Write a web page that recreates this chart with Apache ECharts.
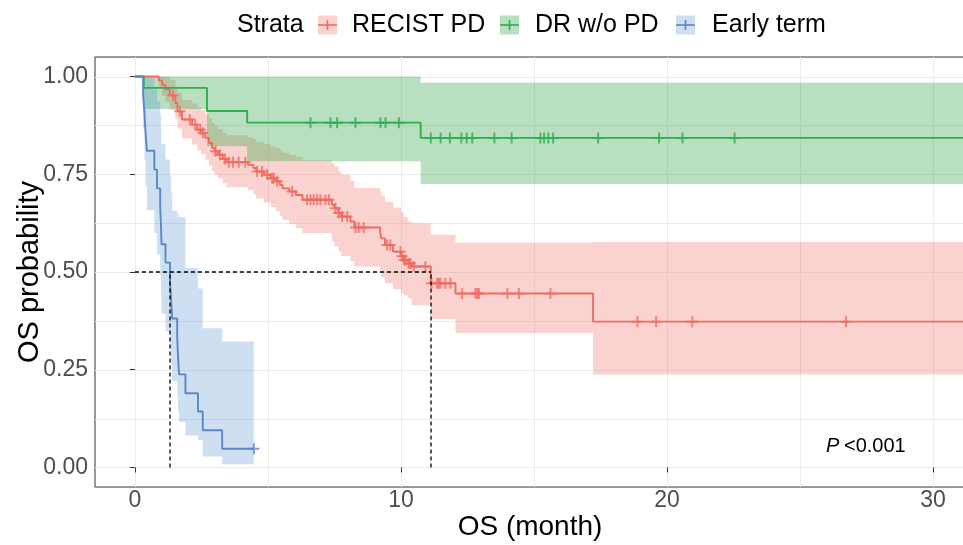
<!DOCTYPE html>
<html>
<head>
<meta charset="utf-8">
<script src="https://cdn.jsdelivr.net/npm/echarts@6/dist/echarts.min.js"></script>
<style>
  html, body { margin: 0; padding: 0; background: #fff; }
  #chart { width: 963px; height: 545px; }
</style>
</head>
<body>
<div id="chart"></div>
<script>
// RECIST PD
var redTime = [0, 0.90, 1.02, 1.15, 1.31, 1.52, 1.60, 1.77, 2.15, 2.35, 2.50, 2.65, 2.78, 2.90, 3.00, 3.12, 3.30, 3.45, 4.25, 4.45, 4.55, 4.85, 5.10, 5.30, 5.45, 5.55, 5.80, 6.05, 6.30, 7.40, 7.50, 7.65, 7.75, 8.10, 8.25, 9.22, 9.26, 9.40, 9.70, 10.00, 10.10, 10.25, 10.40, 11.12, 12.05, 17.22, 31.2];
var redSurv = [1, 0.990, 0.979, 0.967, 0.952, 0.932, 0.911, 0.890, 0.877, 0.864, 0.856, 0.843, 0.830, 0.817, 0.809, 0.800, 0.789, 0.781, 0.774, 0.766, 0.757, 0.749, 0.740, 0.732, 0.723, 0.714, 0.706, 0.697, 0.685, 0.672, 0.663, 0.651, 0.642, 0.629, 0.614, 0.600, 0.586, 0.569, 0.552, 0.540, 0.531, 0.522, 0.514, 0.471, 0.445, 0.373, 0.373];
var redUpper = [1, 1, 1, 1, 0.991, 0.975, 0.958, 0.940, 0.931, 0.920, 0.914, 0.903, 0.892, 0.881, 0.874, 0.866, 0.856, 0.850, 0.845, 0.840, 0.833, 0.828, 0.822, 0.817, 0.811, 0.805, 0.800, 0.794, 0.786, 0.778, 0.770, 0.757, 0.749, 0.733, 0.715, 0.705, 0.695, 0.680, 0.665, 0.653, 0.640, 0.630, 0.625, 0.595, 0.575, 0.577, 0.577];
var redLower = [1, 0.970, 0.950, 0.934, 0.915, 0.891, 0.867, 0.842, 0.826, 0.811, 0.801, 0.787, 0.772, 0.758, 0.749, 0.739, 0.727, 0.717, 0.709, 0.699, 0.688, 0.678, 0.666, 0.656, 0.644, 0.633, 0.623, 0.612, 0.600, 0.578, 0.566, 0.553, 0.541, 0.528, 0.514, 0.500, 0.487, 0.471, 0.456, 0.447, 0.440, 0.432, 0.415, 0.380, 0.344, 0.238, 0.238];
var redCensor = [1.43, 1.69, 2.06, 2.27, 2.46, 2.56, 3.03, 3.19, 3.38, 3.53, 3.69, 3.90, 4.15, 4.59, 4.78, 4.97, 5.16, 5.22, 5.35, 5.91, 6.47, 6.60, 6.72, 6.85, 6.97, 7.16, 7.29, 7.54, 7.66, 7.79, 7.98, 8.29, 8.41, 8.60, 9.48, 9.60, 9.98, 10.04, 10.11, 10.17, 10.29, 10.36, 10.48, 10.92, 11.15, 11.36, 11.42, 11.48, 11.67, 11.86, 12.30, 12.80, 12.87, 12.93, 14.00, 14.43, 15.62, 18.89, 19.59, 20.95, 26.73];

// DR w/o PD
var greenTime = [0, 0.33, 2.71, 4.22, 10.74, 31.2];
var greenSurv = [1, 0.971, 0.912, 0.882, 0.843, 0.843];
var greenUpper = [1, 1, 1, 1, 0.984, 0.984];
var greenLower = [1, 0.917, 0.822, 0.783, 0.725, 0.725];
var greenCensor = [6.60, 7.35, 7.60, 8.29, 9.23, 9.42, 9.92, 11.12, 11.49, 11.84, 12.27, 12.47, 12.68, 13.51, 14.16, 15.24, 15.38, 15.54, 15.72, 17.41, 19.70, 20.58, 22.54];

// Early term
var blueTime = [0, 0.31, 0.36, 0.40, 0.45, 0.73, 0.83, 0.95, 0.98, 1.00, 1.15, 1.32, 1.36, 1.40, 1.59, 1.62, 1.66, 1.90, 2.37, 2.55, 3.28, 4.47];
var blueSurv = [1, 0.952, 0.905, 0.857, 0.810, 0.762, 0.714, 0.667, 0.619, 0.571, 0.524, 0.476, 0.429, 0.381, 0.333, 0.286, 0.238, 0.190, 0.143, 0.095, 0.048, 0.048];
var blueUpper = [1, 1, 1, 1, 0.996, 0.968, 0.936, 0.902, 0.866, 0.827, 0.788, 0.746, 0.703, 0.657, 0.640, 0.650, 0.640, 0.510, 0.458, 0.356, 0.322, 0.322];
var blueLower = [1, 0.866, 0.787, 0.720, 0.658, 0.600, 0.545, 0.493, 0.443, 0.394, 0.348, 0.304, 0.262, 0.221, 0.182, 0.145, 0.116, 0.082, 0.070, 0.028, 0.008, 0.008];
var blueCensor = [4.47];

var medianTime = [1.32, 11.13];
var xTicks = [0, 10, 20, 30];
var yTicks = [0, 0.25, 0.5, 0.75, 1];
var xGrid = [0, 5, 10, 15, 20, 25, 30];
var yGrid = [0, 0.125, 0.25, 0.375, 0.5, 0.625, 0.75, 0.875, 1];

var FONT = 'Liberation Sans';
var plusPath = 'path://M0,4.1H10V5.9H0ZM4.1,0H5.9V10H4.1Z';

var strata = [
  { name: 'RECIST PD', line: '#EF6C62', band: 'rgba(240,110,100,0.3)', time: redTime, surv: redSurv, upper: redUpper, lower: redLower, censor: redCensor },
  { name: 'DR w/o PD', line: '#2EAE4C', band: 'rgba(40,160,65,0.33)', time: greenTime, surv: greenSurv, upper: greenUpper, lower: greenLower, censor: greenCensor },
  { name: 'Early term', line: '#5A87C6', band: 'rgba(80,140,210,0.28)', time: blueTime, surv: blueSurv, upper: blueUpper, lower: blueLower, censor: blueCensor }
];

function survAt(times, surv, t) {
  var v = surv[0];
  for (var i = 0; i < times.length; i++) {
    if (times[i] <= t) v = surv[i];
  }
  return v;
}

var chart = echarts.init(document.getElementById('chart'));

var series = [];

// background grid lines
series.push({
  type: 'custom',
  silent: true,
  z: 0,
  data: [[0, 0]],
  renderItem: function (params, api) {
    var cs = params.coordSys;
    var children = [];
    xGrid.forEach(function (v) {
      var x = Math.round(api.coord([v, 0])[0]) + 0.5;
      children.push({ type: 'line', shape: { x1: x, y1: cs.y, x2: x, y2: cs.y + cs.height }, style: { stroke: '#EBEBEB', lineWidth: 1 } });
    });
    yGrid.forEach(function (v) {
      var y = Math.round(api.coord([0, v])[1]) + 0.5;
      children.push({ type: 'line', shape: { x1: cs.x, y1: y, x2: cs.x + cs.width, y2: y }, style: { stroke: '#EBEBEB', lineWidth: 1 } });
    });
    return { type: 'group', children: children };
  }
});

// confidence bands
strata.forEach(function (s) {
  series.push({
    type: 'custom',
    silent: true,
    z: 1,
    data: [[0, 0]],
    renderItem: function (params, api) {
      var pts = [];
      for (var i = 0; i < s.time.length - 1; i++) {
        pts.push(api.coord([s.time[i], s.upper[i]]));
        pts.push(api.coord([s.time[i + 1], s.upper[i]]));
      }
      for (var j = s.time.length - 2; j >= 0; j--) {
        pts.push(api.coord([s.time[j + 1], s.lower[j]]));
        pts.push(api.coord([s.time[j], s.lower[j]]));
      }
      return { type: 'polygon', shape: { points: pts }, style: { fill: s.band } };
    }
  });
});

// survival curves
strata.forEach(function (s) {
  series.push({
    name: s.name,
    type: 'line',
    step: 'end',
    silent: true,
    z: 3,
    symbol: 'none',
    lineStyle: { color: s.line, width: 1.9 },
    data: s.time.map(function (t, i) { return [t, s.surv[i]]; })
  });
});

// censor marks
strata.forEach(function (s) {
  series.push({
    type: 'scatter',
    silent: true,
    z: 4,
    symbol: plusPath,
    symbolSize: 11,
    itemStyle: { color: s.line },
    data: s.censor.map(function (t) { return [t, survAt(s.time, s.surv, t)]; })
  });
});

// median survival lines
var dashStyle = { color: '#000', width: 1.3, type: [4, 3] };
series.push({
  type: 'line', silent: true, z: 5, symbol: 'none', lineStyle: dashStyle,
  data: [[0, 0.5], [Math.max.apply(null, medianTime), 0.5]]
});
medianTime.forEach(function (m) {
  series.push({
    type: 'line', silent: true, z: 5, symbol: 'none', lineStyle: dashStyle,
    data: [[m, 0], [m, 0.5]]
  });
});

function keyGraphic(x, s) {
  return [
    { type: 'rect', shape: { x: x, y: 15.5, width: 19, height: 19 }, style: { fill: s.band } },
    { type: 'line', shape: { x1: x, y1: 25, x2: x + 19, y2: 25 }, style: { stroke: s.line, lineWidth: 1.6 } },
    { type: 'line', shape: { x1: x + 9.5, y1: 20, x2: x + 9.5, y2: 30 }, style: { stroke: s.line, lineWidth: 1.6 } }
  ];
}

var graphics = [
  { type: 'text', x: 237, y: 25, style: { text: 'Strata', fontFamily: FONT, fontSize: 25, fill: '#000', verticalAlign: 'middle' } }
];
var keyX = [318, 500, 676];
var textX = [352, 535, 712];
strata.forEach(function (s, i) {
  graphics = graphics.concat(keyGraphic(keyX[i], s));
  graphics.push({ type: 'text', x: textX[i], y: 25, style: { text: s.name, fontFamily: FONT, fontSize: 25, fill: '#000', verticalAlign: 'middle' } });
});
graphics.push({ type: 'text', x: 826, y: 446, style: { text: 'P', fontFamily: FONT, fontStyle: 'italic', fontSize: 20, fill: '#000', verticalAlign: 'middle' } });
graphics.push({ type: 'text', x: 844, y: 446, style: { text: '<0.001', fontFamily: FONT, fontSize: 20, fill: '#000', verticalAlign: 'middle' } });

chart.setOption({
  animation: false,
  textStyle: { fontFamily: FONT },
  grid: {
    left: 95, right: -2, top: 57, bottom: 58,
    containLabel: false, outerBoundsMode: 'none',
    show: true, borderColor: '#333', borderWidth: 1, backgroundColor: 'transparent'
  },
  xAxis: {
    type: 'value', min: -1.5, max: 31.2,
    name: 'OS (month)', nameLocation: 'middle', nameGap: 26, nameMoveOverlap: false,
    nameTextStyle: { fontSize: 28, color: '#000', fontFamily: FONT },
    axisLine: { show: false },
    splitLine: { show: false },
    axisTick: { show: true, customValues: xTicks, length: 5, lineStyle: { color: '#333' } },
    axisLabel: { customValues: xTicks, color: '#4D4D4D', fontSize: 23, margin: 2, fontFamily: FONT }
  },
  yAxis: {
    type: 'value', min: -0.05, max: 1.05,
    name: 'OS probability', nameLocation: 'middle', nameGap: 51, nameMoveOverlap: false,
    nameTextStyle: { fontSize: 29, color: '#000', fontFamily: FONT },
    axisLine: { show: false },
    splitLine: { show: false },
    axisTick: { show: true, customValues: yTicks, length: 5, lineStyle: { color: '#333' } },
    axisLabel: {
      customValues: yTicks, color: '#4D4D4D', fontSize: 23, margin: 7, fontFamily: FONT,
      formatter: function (v) { return v.toFixed(2); }
    }
  },
  graphic: graphics,
  series: series
});
</script>
</body>
</html>
